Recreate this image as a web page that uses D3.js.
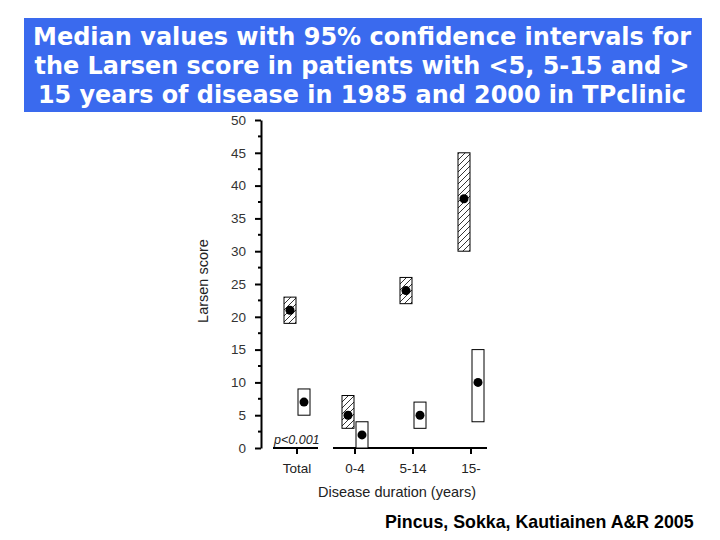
<!DOCTYPE html>
<html>
<head>
<meta charset="utf-8">
<script src="https://cdn.jsdelivr.net/npm/d3@7"></script>
<style>
  body { margin: 0; background: #fff; }
  svg { display: block; }
  .tick text { font-family: "Liberation Sans", Arial, sans-serif; }
</style>
</head>
<body>
<div id="chart"></div>
<script>
// chart data
var titleLines = [
    "Median values with 95% confidence intervals for",
    "the Larsen score in patients with <5, 5-15 and >",
    "15 years of disease in 1985 and 2000 in TPclinic"
];
var categories = ["Total", "0-4", "5-14", "15-"];
var years = ["1985", "2000"];
var median1985 = [21, 5, 24, 38];
var low1985 = [19, 3, 22, 30];
var high1985 = [23, 8, 26, 45];
var median2000 = [7, 2, 5, 10];
var low2000 = [5, 0, 3, 4];
var high2000 = [9, 4, 7, 15];
var yTicks = [0, 5, 10, 15, 20, 25, 30, 35, 40, 45, 50];

var width = 720, height = 540;

var svg = d3.select("#chart")
    .append("svg")
    .attr("width", width)
    .attr("height", height);

// hatch pattern for 1985
var hp = 6;
var defs = svg.append("defs");
defs.append("pattern")
    .attr("id", "hatch")
    .attr("patternUnits", "userSpaceOnUse")
    .attr("width", hp)
    .attr("height", hp)
    .append("path")
    .attr("d", "M-1,1 l2,-2 M0," + hp + " l" + hp + ",-" + hp + " M" + (hp - 1) + "," + (hp + 1) + " l2,-2")
    .attr("stroke", "#000")
    .attr("stroke-width", 0.8);

// title box
svg.append("rect")
    .attr("x", 24)
    .attr("y", 18)
    .attr("width", 678)
    .attr("height", 94)
    .attr("fill", "#3a6aee");

var titleWidths = [658, 655, 648];
svg.selectAll(".title")
    .data(titleLines)
    .enter().append("text")
    .attr("class", "title")
    .attr("x", 362)
    .attr("y", function(d, i) { return 45 + i * 29; })
    .attr("text-anchor", "middle")
    .attr("textLength", function(d, i) { return titleWidths[i]; })
    .attr("lengthAdjust", "spacingAndGlyphs")
    .style("font-family", "'DejaVu Sans', Verdana, sans-serif")
    .style("font-weight", "bold")
    .style("font-size", "24px")
    .attr("fill", "#fff")
    .text(function(d) { return d; });

// scales
var y = d3.scaleLinear()
    .domain([0, 50])
    .range([448, 120]);

var x = d3.scalePoint()
    .domain(categories)
    .range([297, 471]);

var offset = d3.scalePoint()
    .domain(years)
    .range([-7, 7]);

var boxW = 12;

// y axis
var yAxis = d3.axisLeft(y)
    .tickValues(yTicks)
    .tickSize(6)
    .tickSizeOuter(0)
    .tickPadding(9);

var gy = svg.append("g")
    .attr("transform", "translate(261,0)")
    .call(yAxis);
gy.select(".domain").attr("stroke-width", 2).attr("stroke", "#000");
gy.selectAll(".tick line").attr("stroke-width", 2).attr("stroke", "#000");
gy.selectAll(".tick text")
    .attr("fill", "#333")
    .style("font-size", "13.5px");

// minor ticks
var minor = d3.range(2.5, 50, 5);
svg.append("g")
    .selectAll("line")
    .data(minor)
    .enter().append("line")
    .attr("x1", 258)
    .attr("x2", 261)
    .attr("y1", function(d) { return y(d); })
    .attr("y2", function(d) { return y(d); })
    .attr("stroke", "#000")
    .attr("stroke-width", 2);

// x axis: two segments
var segs = [
    [x("Total") - 24, x("Total") + 21],
    [x("0-4") - 22, x("15-") + 16]
];
svg.selectAll(".xseg")
    .data(segs)
    .enter().append("line")
    .attr("class", "xseg")
    .attr("x1", function(d) { return d[0]; })
    .attr("x2", function(d) { return d[1]; })
    .attr("y1", y(0))
    .attr("y2", y(0))
    .attr("stroke", "#000")
    .attr("stroke-width", 2);

svg.selectAll(".xtick")
    .data(categories)
    .enter().append("line")
    .attr("class", "xtick")
    .attr("x1", function(d) { return x(d); })
    .attr("x2", function(d) { return x(d); })
    .attr("y1", y(0))
    .attr("y2", y(0) + 6)
    .attr("stroke", "#000")
    .attr("stroke-width", 2);

svg.selectAll(".xlabel")
    .data(categories)
    .enter().append("text")
    .attr("class", "xlabel")
    .attr("x", function(d) { return x(d); })
    .attr("y", 473)
    .attr("text-anchor", "middle")
    .style("font-family", "'Liberation Sans', Arial, sans-serif")
    .style("font-size", "13.5px")
    .attr("fill", "#222")
    .text(function(d) { return d; });

// axis titles
svg.append("text")
    .attr("x", 397)
    .attr("y", 497)
    .attr("text-anchor", "middle")
    .style("font-family", "'Liberation Sans', Arial, sans-serif")
    .style("font-size", "14.5px")
    .attr("fill", "#222")
    .text("Disease duration (years)");

svg.append("text")
    .attr("transform", "translate(208,281) rotate(-90)")
    .attr("text-anchor", "middle")
    .style("font-family", "'Liberation Sans', Arial, sans-serif")
    .style("font-size", "14.5px")
    .attr("fill", "#222")
    .text("Larsen score");

svg.append("text")
    .attr("x", 274)
    .attr("y", 444)
    .style("font-family", "'Liberation Sans', Arial, sans-serif")
    .style("font-size", "12.5px")
    .style("font-style", "italic")
    .attr("fill", "#222")
    .text("p<0.001");

// boxes and medians
var rows = [];
categories.forEach(function(c, i) {
    rows.push({cat: c, year: "1985", med: median1985[i], lo: low1985[i], hi: high1985[i]});
    rows.push({cat: c, year: "2000", med: median2000[i], lo: low2000[i], hi: high2000[i]});
});

var groups = svg.selectAll(".ci")
    .data(rows)
    .enter().append("g")
    .attr("class", "ci");

groups.append("rect")
    .attr("x", function(d) { return x(d.cat) + offset(d.year) - boxW / 2; })
    .attr("y", function(d) { return y(d.hi); })
    .attr("width", boxW)
    .attr("height", function(d) { return y(d.lo) - y(d.hi); })
    .attr("fill", function(d) { return d.year == "1985" ? "url(#hatch)" : "#fff"; })
    .attr("stroke", "#000")
    .attr("stroke-width", 1);

groups.append("circle")
    .attr("cx", function(d) { return x(d.cat) + offset(d.year); })
    .attr("cy", function(d) { return y(d.med); })
    .attr("r", 4.5)
    .attr("fill", "#000");

// source
svg.append("text")
    .attr("x", 385)
    .attr("y", 528)
    .style("font-family", "'Liberation Sans', Arial, sans-serif")
    .style("font-weight", "bold")
    .style("font-size", "17.8px")
    .attr("fill", "#000")
    .text("Pincus, Sokka, Kautiainen A&R 2005");
</script>
</body>
</html>
